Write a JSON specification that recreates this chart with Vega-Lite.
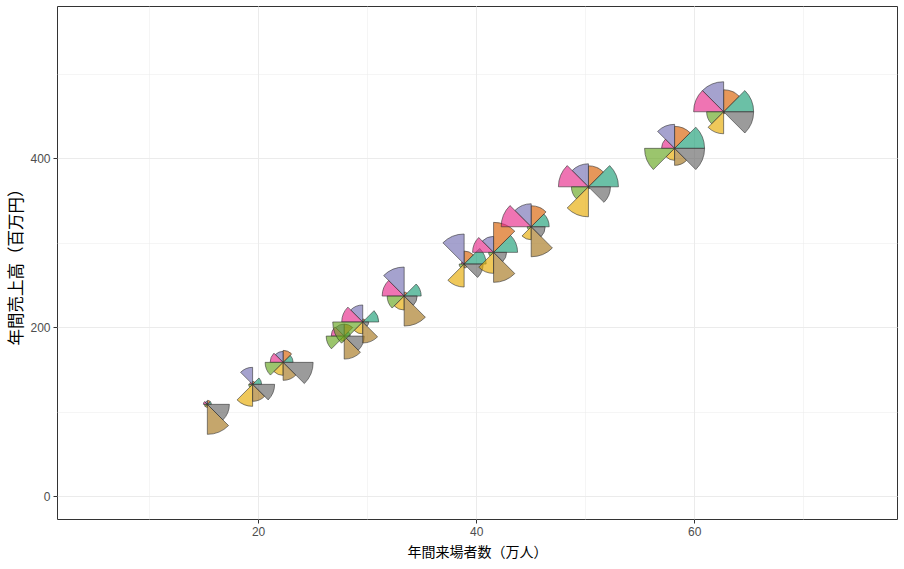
{
  "$schema": "https://vega.github.io/schema/vega-lite/v6.json",
  "width": 840,
  "height": 513,
  "autosize": {"type": "none"},
  "padding": {"left": 57, "top": 6, "right": 7, "bottom": 50},
  "config": {
    "view": {"stroke": "#333333", "strokeWidth": 1},
    "axis": {
      "labelFont": "Liberation Sans",
      "labelFontSize": 12,
      "labelColor": "#4D4D4D",
      "titleFont": "Noto Sans CJK JP",
      "titleFontSize": 14,
      "titleFontWeight": "normal",
      "titleColor": "#000000",
      "domain": false,
      "tickColor": "#333333",
      "tickSize": 4,
      "gridColor": "#EBEBEB"
    }
  },
  "data": {
    "values": [
      {"x": 15.35, "y": 108.5, "item": "A", "v": 4},
      {"x": 15.35, "y": 108.5, "item": "B", "v": 4},
      {"x": 15.35, "y": 108.5, "item": "C", "v": 3},
      {"x": 15.35, "y": 108.5, "item": "D", "v": 4},
      {"x": 15.35, "y": 108.5, "item": "E", "v": 3},
      {"x": 15.35, "y": 108.5, "item": "F", "v": 3},
      {"x": 15.35, "y": 108.5, "item": "G", "v": 30},
      {"x": 15.35, "y": 108.5, "item": "H", "v": 22},
      {"x": 19.5, "y": 132.2, "item": "A", "v": 9},
      {"x": 19.5, "y": 132.2, "item": "B", "v": 3},
      {"x": 19.5, "y": 132.2, "item": "C", "v": 17},
      {"x": 19.5, "y": 132.2, "item": "D", "v": 3},
      {"x": 19.5, "y": 132.2, "item": "E", "v": 4},
      {"x": 19.5, "y": 132.2, "item": "F", "v": 22},
      {"x": 19.5, "y": 132.2, "item": "G", "v": 17},
      {"x": 19.5, "y": 132.2, "item": "H", "v": 22},
      {"x": 22.3, "y": 158.2, "item": "A", "v": 10},
      {"x": 22.3, "y": 158.2, "item": "B", "v": 12},
      {"x": 22.3, "y": 158.2, "item": "C", "v": 11},
      {"x": 22.3, "y": 158.2, "item": "D", "v": 13},
      {"x": 22.3, "y": 158.2, "item": "E", "v": 18},
      {"x": 22.3, "y": 158.2, "item": "F", "v": 13},
      {"x": 22.3, "y": 158.2, "item": "G", "v": 18},
      {"x": 22.3, "y": 158.2, "item": "H", "v": 30},
      {"x": 27.9, "y": 189.3, "item": "A", "v": 6},
      {"x": 27.9, "y": 189.3, "item": "B", "v": 12},
      {"x": 27.9, "y": 189.3, "item": "C", "v": 12},
      {"x": 27.9, "y": 189.3, "item": "D", "v": 13},
      {"x": 27.9, "y": 189.3, "item": "E", "v": 18},
      {"x": 27.9, "y": 189.3, "item": "F", "v": 5},
      {"x": 27.9, "y": 189.3, "item": "G", "v": 23},
      {"x": 27.9, "y": 189.3, "item": "H", "v": 20},
      {"x": 29.6, "y": 206.0, "item": "A", "v": 16},
      {"x": 29.6, "y": 206.0, "item": "B", "v": 3},
      {"x": 29.6, "y": 206.0, "item": "C", "v": 17},
      {"x": 29.6, "y": 206.0, "item": "D", "v": 21},
      {"x": 29.6, "y": 206.0, "item": "E", "v": 30},
      {"x": 29.6, "y": 206.0, "item": "F", "v": 12},
      {"x": 29.6, "y": 206.0, "item": "G", "v": 21},
      {"x": 29.6, "y": 206.0, "item": "H", "v": 6},
      {"x": 33.4, "y": 236.7, "item": "A", "v": 17},
      {"x": 33.4, "y": 236.7, "item": "B", "v": 4},
      {"x": 33.4, "y": 236.7, "item": "C", "v": 29},
      {"x": 33.4, "y": 236.7, "item": "D", "v": 22},
      {"x": 33.4, "y": 236.7, "item": "E", "v": 17},
      {"x": 33.4, "y": 236.7, "item": "F", "v": 14},
      {"x": 33.4, "y": 236.7, "item": "G", "v": 30},
      {"x": 33.4, "y": 236.7, "item": "H", "v": 13},
      {"x": 38.9, "y": 274.6, "item": "A", "v": 22},
      {"x": 38.9, "y": 274.6, "item": "B", "v": 13},
      {"x": 38.9, "y": 274.6, "item": "C", "v": 30},
      {"x": 38.9, "y": 274.6, "item": "D", "v": 3},
      {"x": 38.9, "y": 274.6, "item": "E", "v": 5},
      {"x": 38.9, "y": 274.6, "item": "F", "v": 23},
      {"x": 38.9, "y": 274.6, "item": "G", "v": 4},
      {"x": 38.9, "y": 274.6, "item": "H", "v": 19},
      {"x": 41.6, "y": 288.4, "item": "A", "v": 24},
      {"x": 41.6, "y": 288.4, "item": "B", "v": 30},
      {"x": 41.6, "y": 288.4, "item": "C", "v": 16},
      {"x": 41.6, "y": 288.4, "item": "D", "v": 21},
      {"x": 41.6, "y": 288.4, "item": "E", "v": 5},
      {"x": 41.6, "y": 288.4, "item": "F", "v": 21},
      {"x": 41.6, "y": 288.4, "item": "G", "v": 30},
      {"x": 41.6, "y": 288.4, "item": "H", "v": 13},
      {"x": 45.05, "y": 318.7, "item": "A", "v": 18},
      {"x": 45.05, "y": 318.7, "item": "B", "v": 21},
      {"x": 45.05, "y": 318.7, "item": "C", "v": 23},
      {"x": 45.05, "y": 318.7, "item": "D", "v": 30},
      {"x": 45.05, "y": 318.7, "item": "E", "v": 4},
      {"x": 45.05, "y": 318.7, "item": "F", "v": 13},
      {"x": 45.05, "y": 318.7, "item": "G", "v": 30},
      {"x": 45.05, "y": 318.7, "item": "H", "v": 14},
      {"x": 50.3, "y": 366.0, "item": "A", "v": 30},
      {"x": 50.3, "y": 366.0, "item": "B", "v": 21},
      {"x": 50.3, "y": 366.0, "item": "C", "v": 23},
      {"x": 50.3, "y": 366.0, "item": "D", "v": 30},
      {"x": 50.3, "y": 366.0, "item": "E", "v": 17},
      {"x": 50.3, "y": 366.0, "item": "F", "v": 30},
      {"x": 50.3, "y": 366.0, "item": "G", "v": 2},
      {"x": 50.3, "y": 366.0, "item": "H", "v": 22},
      {"x": 58.2, "y": 411.5, "item": "A", "v": 30},
      {"x": 58.2, "y": 411.5, "item": "B", "v": 22},
      {"x": 58.2, "y": 411.5, "item": "C", "v": 24},
      {"x": 58.2, "y": 411.5, "item": "D", "v": 13},
      {"x": 58.2, "y": 411.5, "item": "E", "v": 30},
      {"x": 58.2, "y": 411.5, "item": "F", "v": 12},
      {"x": 58.2, "y": 411.5, "item": "G", "v": 17},
      {"x": 58.2, "y": 411.5, "item": "H", "v": 30},
      {"x": 62.7, "y": 454.8, "item": "A", "v": 30},
      {"x": 62.7, "y": 454.8, "item": "B", "v": 22},
      {"x": 62.7, "y": 454.8, "item": "C", "v": 30},
      {"x": 62.7, "y": 454.8, "item": "D", "v": 30},
      {"x": 62.7, "y": 454.8, "item": "E", "v": 17},
      {"x": 62.7, "y": 454.8, "item": "F", "v": 22},
      {"x": 62.7, "y": 454.8, "item": "G", "v": 2},
      {"x": 62.7, "y": 454.8, "item": "H", "v": 30}
    ]
  },
  "transform": [
    {"calculate": "1 - indexof(['A','B','C','D','E','F','G','H'], datum.item)", "as": "t0"},
    {"calculate": "datum.t0 + 1", "as": "t1"}
  ],
  "mark": {
    "type": "arc",
    "fillOpacity": 0.65,
    "stroke": "#333333",
    "strokeWidth": 0.6,
    "clip": true
  },
  "encoding": {
    "x": {
      "field": "x",
      "type": "quantitative",
      "scale": {"domain": [1.56, 78.6], "nice": false, "zero": false},
      "axis": {
        "title": "年間来場者数（万人）",
        "values": [10, 20, 30, 40, 50, 60, 70],
        "labelExpr": "datum.value % 20 == 0 ? datum.label : ''",
        "tickOpacity": {"condition": {"test": "datum.value % 20 == 0", "value": 1}, "value": 0},
        "gridWidth": {"condition": {"test": "datum.value % 20 == 0", "value": 1}, "value": 0.5},
        "labelPadding": 3,
        "titlePadding": 8
      }
    },
    "y": {
      "field": "y",
      "type": "quantitative",
      "scale": {"domain": [-27.2, 580], "nice": false, "zero": false},
      "axis": {
        "title": "年間売上高（百万円）",
        "titleFontSize": 16.5,
        "values": [0, 100, 200, 300, 400, 500],
        "labelExpr": "datum.value % 200 == 0 ? datum.label : ''",
        "tickOpacity": {"condition": {"test": "datum.value % 200 == 0", "value": 1}, "value": 0},
        "gridWidth": {"condition": {"test": "datum.value % 200 == 0", "value": 1}, "value": 0.5},
        "labelPadding": 3,
        "titlePadding": 5
      }
    },
    "theta": {
      "field": "t0",
      "type": "quantitative",
      "scale": {"domain": [0, 8], "range": [0, 6.283185307179586], "zero": false}
    },
    "theta2": {"field": "t1"},
    "radius": {
      "field": "v",
      "type": "quantitative",
      "scale": {"type": "linear", "domain": [0, 30], "range": [0, 30], "zero": true}
    },
    "color": {
      "field": "item",
      "type": "nominal",
      "legend": null,
      "scale": {
        "domain": ["A", "B", "C", "D", "E", "F", "G", "H"],
        "range": ["#1B9E77", "#D95F02", "#7570B3", "#E7298A", "#66A61E", "#E6AB02", "#A6761D", "#666666"]
      }
    }
  }
}
